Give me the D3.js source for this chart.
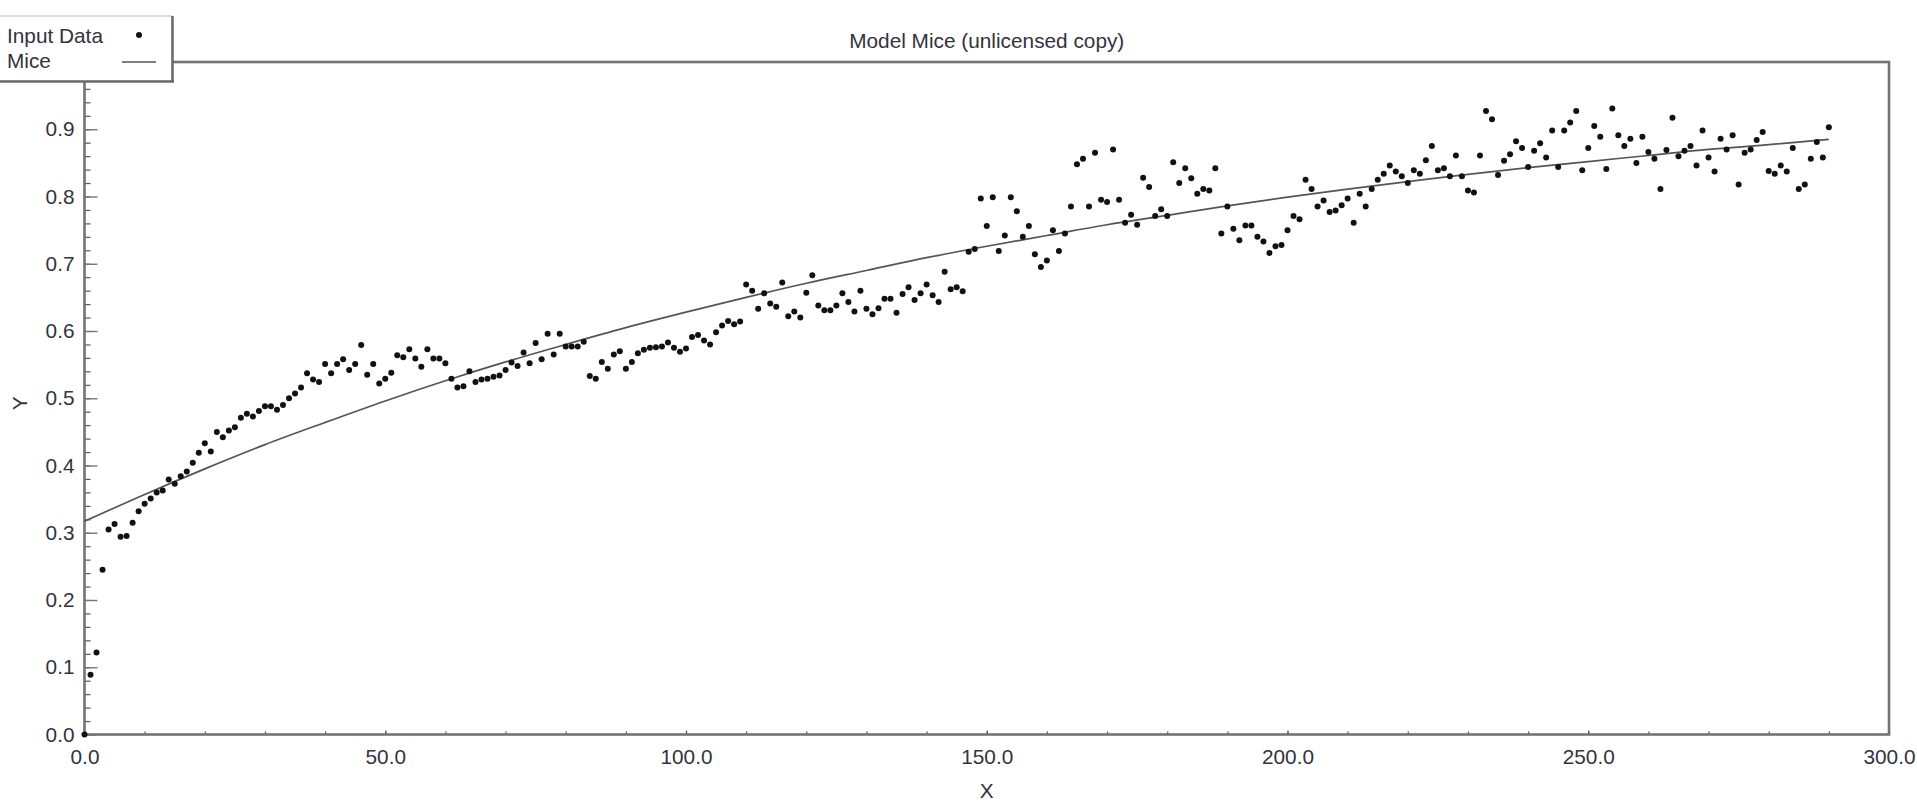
<!DOCTYPE html>
<html>
<head>
<meta charset="utf-8">
<script src="https://cdn.jsdelivr.net/npm/d3@7"></script>
<style>
  html, body { margin: 0; padding: 0; background: #fff; }
  svg { display: block; }
  text { font-family: "Liberation Sans", Arial, sans-serif; fill: #33333d; }
</style>
</head>
<body>
<svg id="chart" width="1917" height="805"></svg>
<script>
// ---- Data (x of input data = index 0..290) ----
const inputY = [
  0.000, 0.089, 0.122, 0.245, 0.305, 0.313, 0.294, 0.295, 0.315, 0.332,
  0.343, 0.351, 0.360, 0.363, 0.379, 0.373, 0.384, 0.391, 0.404, 0.419,
  0.433, 0.421, 0.450, 0.442, 0.452, 0.457, 0.471, 0.477, 0.473, 0.481,
  0.488, 0.488, 0.483, 0.490, 0.500, 0.507, 0.516, 0.537, 0.528, 0.524,
  0.551, 0.537, 0.551, 0.558, 0.542, 0.551, 0.579, 0.535, 0.551, 0.522,
  0.529, 0.538, 0.564, 0.561, 0.573, 0.559, 0.547, 0.573, 0.559, 0.559,
  0.552, 0.529, 0.516, 0.518, 0.540, 0.524, 0.528, 0.529, 0.532, 0.534,
  0.542, 0.553, 0.548, 0.568, 0.552, 0.582, 0.558, 0.596, 0.565, 0.596,
  0.577, 0.577, 0.577, 0.584, 0.533, 0.529, 0.554, 0.544, 0.565, 0.570,
  0.544, 0.554, 0.567, 0.572, 0.575, 0.576, 0.577, 0.583, 0.575, 0.569,
  0.574, 0.591, 0.594, 0.586, 0.580, 0.598, 0.608, 0.615, 0.610, 0.614,
  0.669, 0.660, 0.633, 0.656, 0.641, 0.636, 0.672, 0.622, 0.629, 0.620,
  0.657, 0.683, 0.638, 0.631, 0.631, 0.638, 0.656, 0.643, 0.629, 0.660,
  0.633, 0.625, 0.634, 0.648, 0.648, 0.627, 0.655, 0.665, 0.646, 0.656,
  0.669, 0.653, 0.643, 0.688, 0.662, 0.665, 0.659, 0.718, 0.722, 0.797,
  0.756, 0.799, 0.719, 0.742, 0.799, 0.778, 0.740, 0.756, 0.714, 0.695,
  0.705, 0.750, 0.719, 0.745, 0.785, 0.848, 0.856, 0.785, 0.865, 0.795,
  0.792, 0.870, 0.795, 0.761, 0.773, 0.758, 0.828, 0.814, 0.771, 0.781,
  0.771, 0.851, 0.820, 0.842, 0.827, 0.804, 0.811, 0.809, 0.842, 0.745,
  0.785, 0.752, 0.735, 0.757, 0.757, 0.740, 0.733, 0.716, 0.726, 0.728,
  0.750, 0.771, 0.766, 0.825, 0.811, 0.785, 0.794, 0.777, 0.779, 0.787,
  0.797, 0.761, 0.804, 0.785, 0.811, 0.825, 0.834, 0.846, 0.837, 0.830,
  0.820, 0.839, 0.834, 0.854, 0.875, 0.839, 0.842, 0.830, 0.861, 0.830,
  0.809, 0.806, 0.861, 0.927, 0.915, 0.832, 0.853, 0.863, 0.882, 0.872,
  0.844, 0.868, 0.879, 0.858, 0.898, 0.844, 0.898, 0.910, 0.927, 0.839,
  0.872, 0.905, 0.889, 0.841, 0.931, 0.891, 0.875, 0.886, 0.850, 0.889,
  0.866, 0.856, 0.811, 0.869, 0.917, 0.860, 0.868, 0.875, 0.846, 0.898,
  0.858, 0.837, 0.886, 0.870, 0.891, 0.818, 0.865, 0.870, 0.884, 0.896,
  0.838, 0.834, 0.846, 0.837, 0.872, 0.811, 0.818, 0.856, 0.881, 0.858,
  0.903
];

// Fitted "Mice" curve, read every 10 units of X
const miceX = [0,10,20,30,40,50,60,70,80,90,100,110,120,130,140,150,160,170,180,190,200,210,220,230,240,250,260,270,280,290];
const miceY = [0.317,0.357,0.395,0.431,0.464,0.496,0.526,0.554,0.580,0.605,0.628,0.650,0.671,0.690,0.709,0.726,0.742,0.758,0.772,0.786,0.799,0.811,0.822,0.833,0.843,0.852,0.861,0.870,0.877,0.885];

const xMajorTicks = [0, 50, 100, 150, 200, 250, 300];
const yMajorTicks = [0.0, 0.1, 0.2, 0.3, 0.4, 0.5, 0.6, 0.7, 0.8, 0.9];

const titleText = "Model Mice (unlicensed copy)";
const xLabel = "X";
const yLabel = "Y";
const legendLabels = ["Input Data", "Mice"];

// ---- Layout ----
const svg = d3.select("#chart");
const L = 84.5, R = 1889, T = 62, B = 734.5;
const FS = 20.8;
const x = d3.scaleLinear().domain([0, 300]).range([L, R]);
const y = d3.scaleLinear().domain([0, 1]).range([B, T]);
const fmt = d3.format(".1f");
const axisColor = "#737373";

// minor x ticks
const xMinor = svg.append("g").attr("transform", `translate(0,${B})`)
  .call(d3.axisBottom(x).tickValues(d3.range(0, 301, 10)).tickSize(-3).tickFormat(""));
xMinor.select(".domain").remove();
xMinor.selectAll("line").attr("stroke", "#555").attr("stroke-width", 1.2);

const xMajor = svg.append("g").attr("transform", `translate(0,${B})`)
  .call(d3.axisBottom(x).tickValues(xMajorTicks).tickSize(-4).tickPadding(15).tickFormat(fmt));
xMajor.select(".domain").remove();
xMajor.selectAll("line").attr("stroke", "#555").attr("stroke-width", 1.2);
xMajor.selectAll("text").attr("font-size", FS).attr("fill", "#33333d");

// y ticks
const yMinor = svg.append("g").attr("transform", `translate(${L},0)`)
  .call(d3.axisLeft(y).tickValues(d3.range(0, 50).map(i => i * 0.02)).tickSize(-6).tickFormat(""));
yMinor.select(".domain").remove();
yMinor.selectAll("line").attr("stroke", "#555").attr("stroke-width", 1.2);

const yMajor = svg.append("g").attr("transform", `translate(${L},0)`)
  .call(d3.axisLeft(y).tickValues(yMajorTicks).tickSize(-13).tickPadding(10).tickFormat(fmt));
yMajor.select(".domain").remove();
yMajor.selectAll("line").attr("stroke", "#777").attr("stroke-width", 1.4);
yMajor.selectAll("text").attr("font-size", FS).attr("fill", "#33333d");

// frame
svg.append("rect").attr("x", L).attr("y", T).attr("width", R - L).attr("height", B - T)
  .attr("fill", "none").attr("stroke", axisColor).attr("stroke-width", 2.6);

// Mice curve
const line = d3.line().x((d, i) => x(miceX[i])).y(d => y(d)).curve(d3.curveMonotoneX);
svg.append("path").datum(miceY).attr("d", line)
  .attr("fill", "none").attr("stroke", "#555").attr("stroke-width", 1.7);

// points
svg.append("g").selectAll("circle").data(inputY).join("circle")
  .attr("cx", (d, i) => x(i)).attr("cy", d => y(d)).attr("r", 3.0).attr("fill", "#111");

// title
svg.append("text").attr("x", (L + R) / 2).attr("y", 48).attr("text-anchor", "middle")
  .attr("font-size", FS).text(titleText);

// axis labels
svg.append("text").attr("x", (L + R) / 2).attr("y", 798).attr("text-anchor", "middle")
  .attr("font-size", FS).text(xLabel);
svg.append("text").attr("transform", `translate(27,${(T + B) / 2 + 5}) rotate(-90)`)
  .attr("text-anchor", "middle").attr("font-size", FS).text(yLabel);

// legend
const lg = svg.append("g");
lg.append("rect").attr("x", -2).attr("y", 16).attr("width", 174).attr("height", 65)
  .attr("fill", "#fff").attr("stroke", "#bbb").attr("stroke-width", 1);
lg.append("line").attr("x1", 172.5).attr("x2", 172.5).attr("y1", 16).attr("y2", 82)
  .attr("stroke", "#6a6a6a").attr("stroke-width", 2.5);
lg.append("line").attr("x1", -2).attr("x2", 174).attr("y1", 81.5).attr("y2", 81.5)
  .attr("stroke", "#6a6a6a").attr("stroke-width", 2.5);
lg.append("text").attr("x", 7).attr("y", 43).attr("font-size", FS).text(legendLabels[0]);
lg.append("text").attr("x", 7).attr("y", 68).attr("font-size", FS).text(legendLabels[1]);
lg.append("circle").attr("cx", 139).attr("cy", 35).attr("r", 3.0).attr("fill", "#111");
lg.append("line").attr("x1", 122).attr("x2", 156).attr("y1", 62).attr("y2", 62)
  .attr("stroke", "#555").attr("stroke-width", 1.7);
</script>
</body>
</html>
